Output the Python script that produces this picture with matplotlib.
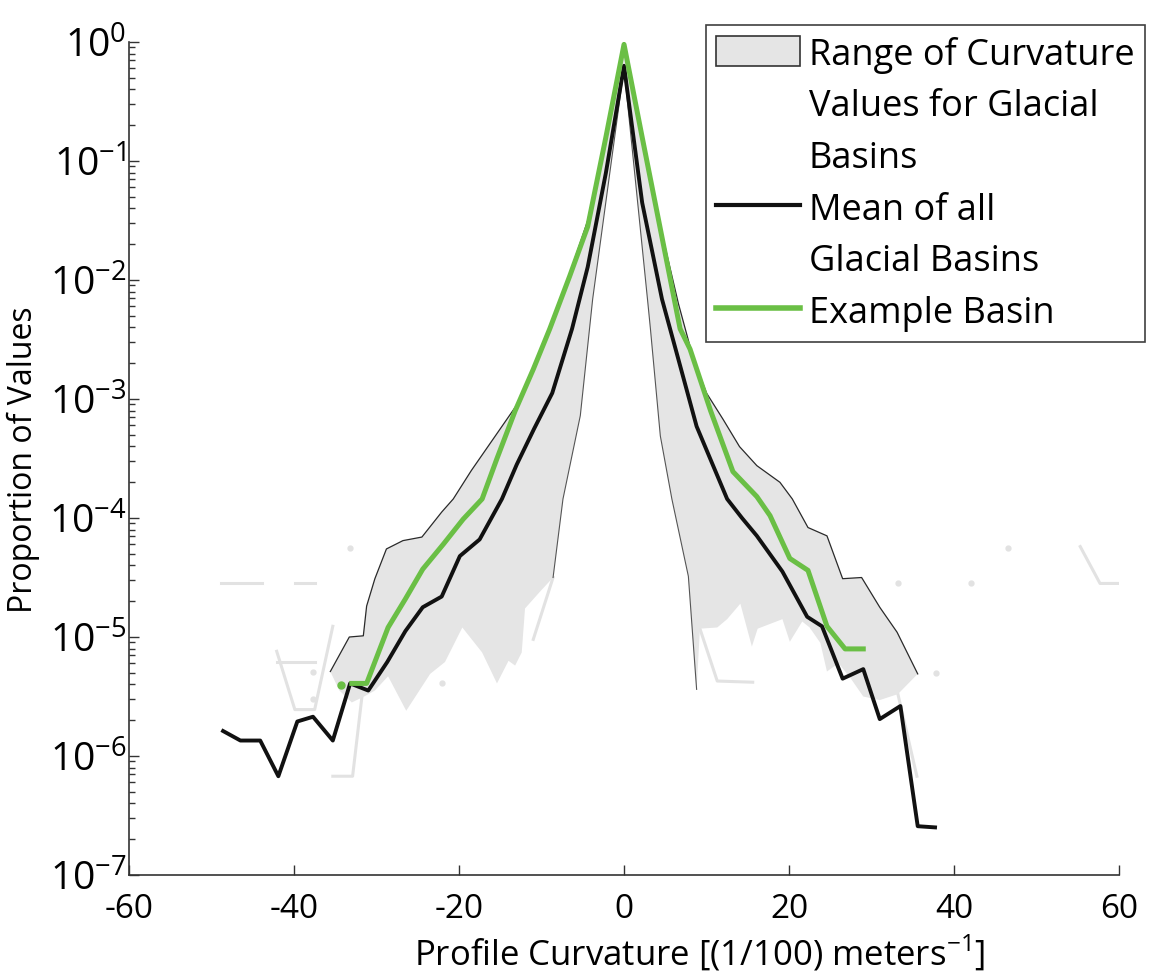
import numpy as np
import matplotlib.pyplot as plt
from matplotlib.patches import Patch
from matplotlib.lines import Line2D
from matplotlib.ticker import FixedLocator, FuncFormatter, LogLocator, NullFormatter

plt.rcParams['font.family'] = ['Open Sans', 'DejaVu Sans']
plt.rcParams['mathtext.fontset'] = 'custom'
plt.rcParams['mathtext.rm'] = 'Open Sans'
plt.rcParams['axes.unicode_minus'] = False

# values are log10(proportion of values)
# upper envelope of the glacial basins
max_x = [-35.6, -33.3, -31.6, -31.2, -30.2, -28.8, -26.8, -24.5, -22.1, -20.7,
         -18.5, -15.5, -13.0, -11.0, -8.8, -6.6, -4.4, -2.2, 0.0,
         2.2, 4.4, 6.6, 8.4, 10.0, 12.0, 14.0, 16.1, 18.9, 20.4, 22.3,
         24.6, 26.5, 28.8, 31.0, 33.1, 35.6]
max_log = [-5.29, -5.00, -4.99, -4.74, -4.51, -4.26, -4.19, -4.16, -3.95, -3.84,
           -3.60, -3.30, -3.05, -2.75, -2.35, -1.95, -1.50, -0.78, 0.0,
           -0.78, -1.55, -2.20, -2.66, -2.95, -3.17, -3.40, -3.56, -3.70, -3.84, -4.08,
           -4.15, -4.51, -4.50, -4.75, -4.96, -5.31]

# lower envelope of the glacial basins
min_x = [-35.6, -34.5, -33.0, -31.5, -30.2, -28.6, -26.4, -23.5, -21.7, -19.6,
         -17.2, -15.4, -14.0, -13.2, -12.4, -12.0, -10.2, -8.6, -7.4, -5.3,
         -3.8, 0.0, 2.9, 3.2, 4.4, 5.8, 7.8, 8.8, 9.2, 11.3, 12.5, 14.1,
         15.5, 16.2, 17.7, 19.2, 20.1, 21.6, 22.5, 23.8, 24.6, 26.0, 27.5,
         29.0, 31.0, 33.2, 35.6]
min_log = [-5.29, -5.45, -5.55, -5.50, -5.45, -5.33, -5.62, -5.31, -5.21, -4.92,
           -5.13, -5.39, -5.20, -5.24, -5.13, -4.76, -4.62, -4.50, -3.84, -3.14,
           -2.16, -0.22, -2.20, -2.41, -3.31, -3.84, -4.49, -5.44, -4.93, -4.92, -4.85, -4.72,
           -5.08, -4.93, -4.89, -4.85, -5.04, -4.87, -4.92, -5.05, -5.29, -5.22, -5.35,
           -5.50, -5.53, -5.48, -5.31]

# mean of all glacial basins
mean_x = [-48.6, -46.5, -44.1, -41.9, -39.6, -37.7, -35.3, -33.2, -31.0, -28.7,
          -26.5, -24.4, -22.1, -19.9, -17.5, -14.8, -13.0, -10.9, -8.7, -6.3,
          -4.4, -2.2, 0.0, 2.2, 4.6, 6.8, 8.8, 10.8, 12.5, 14.3, 16.1, 19.2,
          22.2, 24.0, 26.5, 29.0, 31.0, 33.5, 35.6, 37.7]
mean_log = [-5.79, -5.87, -5.87, -6.17, -5.71, -5.67, -5.87, -5.39, -5.45, -5.21,
            -4.95, -4.75, -4.66, -4.32, -4.18, -3.84, -3.55, -3.25, -2.95, -2.41,
            -1.89, -1.10, -0.20, -1.35, -2.16, -2.72, -3.23, -3.56, -3.84, -4.00, -4.15, -4.45,
            -4.83, -4.91, -5.35, -5.27, -5.69, -5.58, -6.59, -6.60]

# example basin
ex_x = [-33.0, -31.2, -28.6, -26.5, -24.4, -21.9, -19.5, -17.2, -15.4, -13.2,
        -11.0, -9.0, -6.6, -4.4, -2.2, 0.0, 2.2, 4.4, 6.8, 8.0, 10.5, 13.2,
        16.1, 17.7, 20.1, 22.3, 24.6, 26.8, 29.0]
ex_log = [-5.39, -5.39, -4.92, -4.68, -4.43, -4.22, -4.01, -3.84, -3.50, -3.10,
          -2.75, -2.41, -1.97, -1.55, -0.80, -0.02, -0.80, -1.57, -2.41, -2.58, -3.10, -3.61,
          -3.82, -3.98, -4.34, -4.44, -4.91, -5.10, -5.10]
ex_dot_x = [-34.3]
ex_dot_log = [-5.40]

# faint fragments of individual basins outside the filled range
faint_traces = [
    ([-48.8, -43.9], [-4.55, -4.55]),
    ([-39.9, -37.5], [-4.55, -4.55]),
    ([-42.1, -39.9, -37.5, -35.3], [-5.12, -5.61, -5.61, -4.91]),
    ([-42.1, -37.5], [-5.21, -5.21]),
    ([-31.7, -32.9, -35.3], [-5.46, -6.17, -6.17]),
    ([-8.6, -11.0], [-4.50, -5.02]),
    ([9.2, 11.3, 15.6], [-4.93, -5.37, -5.38]),
    ([33.2, 35.5], [-5.48, -6.17]),
    ([55.3, 57.7, 59.9], [-4.24, -4.55, -4.55]),
]
faint_dot_x = [-33.2, -37.7, -37.7, -22.1, 33.2, 42.0, 46.5, 37.8]
faint_dot_log = [-4.25, -5.29, -5.52, -5.39, -4.55, -4.55, -4.25, -5.30]

fill_color = '#e5e5e5'
green = '#6abf45'

fig = plt.figure(figsize=(11.49, 9.78), dpi=100)
ax = fig.add_axes([0.1123, 0.1043, 0.8616, 0.8517])
ax.set_yscale('log')

for fx, fl in faint_traces:
    ax.plot(fx, 10.0 ** np.array(fl), color='#e2e2e2', lw=2.2, zorder=1)
ax.plot(faint_dot_x, 10.0 ** np.array(faint_dot_log), 'o', color='#e2e2e2',
        ms=3.5, zorder=1)

poly_x = np.concatenate([max_x, min_x[::-1]])
poly_y = 10.0 ** np.concatenate([max_log, min_log[::-1]])
ax.fill(poly_x, poly_y, color=fill_color, lw=0, zorder=1.5)
ax.plot(max_x, 10.0 ** np.array(max_log), color='#2a2a2a', lw=0.9, zorder=2)

mx = np.array(min_x)
inner = np.abs(mx) <= 8.8
ax.plot(mx[inner], 10.0 ** np.array(min_log)[inner], color='#555555', lw=0.8, zorder=2)

ax.plot(mean_x, 10.0 ** np.array(mean_log), color='#111111', lw=2.8, zorder=3)
ax.plot(ex_x, 10.0 ** np.array(ex_log), color=green, lw=3.6, zorder=4)
ax.plot(ex_dot_x, 10.0 ** np.array(ex_dot_log), 'o', color=green, ms=5, zorder=4)

ax.set_xlim(-60, 60)
ax.set_ylim(1e-7, 1)
ax.set_xticks(range(-60, 61, 20))
ax.yaxis.set_major_locator(FixedLocator([10.0 ** k for k in range(-7, 1)]))
ax.yaxis.set_major_formatter(FuncFormatter(
    lambda v, _: r'$\mathregular{10^{%d}}$' % round(np.log10(v))))
ax.yaxis.set_minor_locator(LogLocator(base=10, subs=np.arange(2, 10)))
ax.yaxis.set_minor_formatter(NullFormatter())

ax.tick_params(which='both', direction='in', top=False, right=False, width=1,
               color='#333333')
ax.tick_params(which='major', length=7)
ax.tick_params(which='minor', length=4)
ax.tick_params(axis='y', labelsize=28, pad=2)
ax.tick_params(axis='x', labelsize=24, pad=12.5)
for side in ['top', 'right']:
    ax.spines[side].set_visible(False)
for side in ['left', 'bottom']:
    ax.spines[side].set_color('#333333')
    ax.spines[side].set_linewidth(1.2)

ax.set_xlabel(r'Profile Curvature [(1/100) meters$^{\mathregular{-1}}$]', fontsize=25)
ax.xaxis.set_label_coords(0.576, -0.068)
ax.xaxis.label.set_va('top')
ax.set_ylabel('Proportion of Values', fontsize=23, labelpad=6)

blank = Line2D([], [], color='none')
handles = [Patch(facecolor=fill_color, edgecolor='#333333', lw=1.2), blank, blank,
           Line2D([], [], color='#111111', lw=3), blank,
           Line2D([], [], color=green, lw=4)]
labels = ['Range of Curvature', 'Values for Glacial', 'Basins', 'Mean of all',
          'Glacial Basins', 'Example Basin']
leg = ax.legend(handles, labels, loc='upper right',
                bbox_to_anchor=(1145 / 1149, 1 - 26 / 978),
                bbox_transform=fig.transFigure, fontsize=26, frameon=True,
                fancybox=False, framealpha=1, edgecolor='#404040',
                borderpad=0.3, labelspacing=0.42, handlelength=2.3,
                handleheight=0.9, handletextpad=0.25, borderaxespad=0)
leg.get_frame().set_linewidth(1.2)
leg.set_zorder(5)

fig.savefig('out.png', dpi=100)
